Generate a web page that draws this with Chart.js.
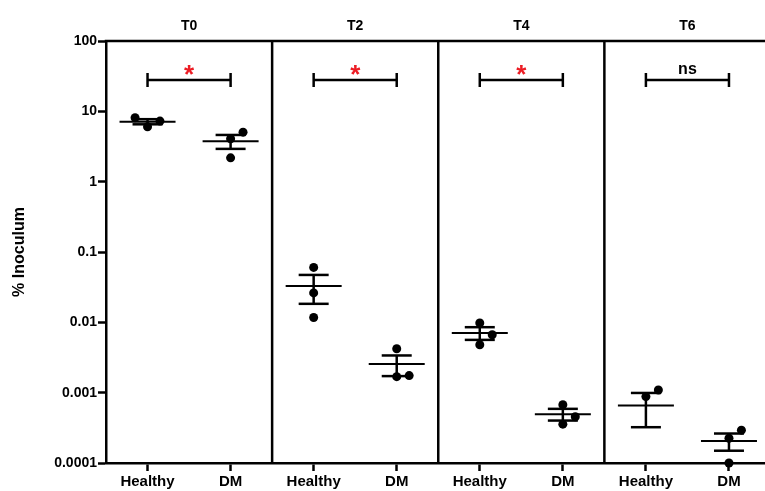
<!DOCTYPE html>
<html><head><meta charset="utf-8">
<script src="https://cdn.jsdelivr.net/npm/chart.js@4.4.1/dist/chart.umd.min.js"></script>
<style>
html,body{margin:0;padding:0;background:#fff;overflow:hidden;width:765px;height:491px}
#wrap{width:775px;height:491px;position:relative}
</style>
</head><body><div id="wrap"><canvas id="c" width="775" height="491"></canvas></div>
<script>
// ---- data ----
const panels = ['T0', 'T2', 'T4', 'T6'];
const groups = ['Healthy', 'DM'];
const significance = ['*', '*', '*', 'ns'];
const yTickValues = [0.0001, 0.001, 0.01, 0.1, 1, 10, 100];
const yTickLabels = ['0.0001', '0.001', '0.01', '0.1', '1', '10', '100'];
const yTitle = '% Inoculum';

const t0Healthy = [6.04, 7.27, 8.1];
const t0DM = [4.07, 2.18, 5.06];
const t2Healthy = [0.0604, 0.0262, 0.0117];
const t2DM = [0.00421, 0.00169, 0.00175];
const t4Healthy = [0.00977, 0.0048, 0.00667];
const t4DM = [0.000674, 0.000357, 0.000454];
const t6Healthy = [0.00088, 0.00109, 0];
const t6DM = [0.000225, 0.0001, 0.000293];

const valueSets = [t0Healthy, t0DM, t2Healthy, t2DM, t4Healthy, t4DM, t6Healthy, t6DM];

// ---- helpers ----
const FONT = '"Liberation Sans", Arial, sans-serif';
const catPos = valueSets.map((_, i) => i + 0.5);
function stats(arr) {
  const n = arr.length;
  const m = arr.reduce((a, b) => a + b, 0) / n;
  const sd = Math.sqrt(arr.reduce((a, b) => a + (b - m) * (b - m), 0) / (n - 1));
  return { m, sem: sd / Math.sqrt(n) };
}
function line(ctx, x1, y1, x2, y2) { ctx.beginPath(); ctx.moveTo(x1, y1); ctx.lineTo(x2, y2); ctx.stroke(); }
function centeredText(ctx, text, x, cy) {
  ctx.textAlign = 'center';
  ctx.textBaseline = 'alphabetic';
  const m = ctx.measureText(text);
  ctx.fillText(text, x, cy + (m.actualBoundingBoxAscent - m.actualBoundingBoxDescent) / 2);
}

const overlay = {
  id: 'overlay',
  beforeDatasetsDraw(chart) {
    const { ctx, chartArea: a, scales: { x, y } } = chart;
    ctx.save();
    ctx.strokeStyle = '#000';
    ctx.lineCap = 'butt';
    // top border + panel dividers
    ctx.lineWidth = 2.5;
    line(ctx, a.left - 1.25, a.top, a.right + 10, a.top);
    for (let p = 1; p < panels.length; p++) {
      const px = x.getPixelForValue(p * 2);
      line(ctx, px, a.top, px, a.bottom);
    }
    // mean and SEM
    valueSets.forEach((vals, i) => {
      const s = stats(vals);
      const cx = x.getPixelForValue(catPos[i]);
      const ym = y.getPixelForValue(s.m);
      const yt = y.getPixelForValue(s.m + s.sem);
      const yb = y.getPixelForValue(s.m - s.sem);
      ctx.lineWidth = 2;
      line(ctx, cx - 28, ym, cx + 28, ym);
      ctx.lineWidth = 2.5;
      line(ctx, cx, yt, cx, yb);
      line(ctx, cx - 15, yt, cx + 15, yt);
      line(ctx, cx - 15, yb, cx + 15, yb);
    });
    // panel titles, brackets, significance
    panels.forEach((name, p) => {
      const x1 = x.getPixelForValue(catPos[p * 2]);
      const x2 = x.getPixelForValue(catPos[p * 2 + 1]);
      const mid = (x.getPixelForValue(p * 2) + x.getPixelForValue(p * 2 + 2)) / 2;
      ctx.fillStyle = '#000';
      ctx.font = 'bold 14px ' + FONT;
      ctx.textAlign = 'center';
      ctx.textBaseline = 'alphabetic';
      ctx.fillText(name, mid, 29.5);
      const by = a.top + 39;
      ctx.lineWidth = 2.5;
      line(ctx, x1, by, x2, by);
      line(ctx, x1, by - 7, x1, by + 7);
      line(ctx, x2, by - 7, x2, by + 7);
      const sig = significance[p];
      const cxm = (x1 + x2) / 2;
      if (sig === 'ns') {
        ctx.fillStyle = '#000';
        ctx.font = 'bold 16px ' + FONT;
        centeredText(ctx, sig, cxm, by - 10.5);
      } else {
        ctx.fillStyle = '#ec1c24';
        ctx.font = 'bold 26px ' + FONT;
        centeredText(ctx, sig, cxm, by - 10.3);
      }
    });
    ctx.restore();
  }
};

const chart = new Chart(document.getElementById('c'), {
  type: 'scatter',
  data: { datasets: [{
    data: [],
    pointRadius: 4.5, pointHoverRadius: 4.5,
    backgroundColor: '#000', borderColor: '#000', borderWidth: 0,
    clip: false
  }] },
  options: {
    responsive: false, animation: false, events: [],
    layout: { padding: { top: 41, right: 2, bottom: 0, left: 0 } },
    plugins: { legend: { display: false }, tooltip: { enabled: false } },
    scales: {
      x: {
        type: 'linear', min: 0, max: panels.length * 2, position: 'bottom',
        afterBuildTicks: s => { s.ticks = catPos.map(v => ({ value: v })); },
        ticks: {
          autoSkip: false, maxRotation: 0, color: '#000', padding: 2,
          font: { family: FONT, weight: 'bold', size: 15 },
          callback: v => groups[Math.floor(v) % groups.length]
        },
        grid: { drawOnChartArea: false, drawTicks: true, tickLength: 8, tickWidth: 2.5, tickColor: '#000' },
        border: { display: true, color: '#000', width: 2.5 },
        afterFit: s => { s.height = 28; }
      },
      y: {
        type: 'logarithmic', min: yTickValues[0], max: yTickValues[yTickValues.length - 1],
        afterBuildTicks: s => { s.ticks = yTickValues.map(v => ({ value: v })); },
        ticks: {
          autoSkip: false, color: '#000', padding: 1,
          font: { family: FONT, weight: 'bold', size: 14 },
          callback: v => {
            const i = yTickValues.findIndex(t => Math.abs(Math.log10(t) - Math.log10(v)) < 1e-6);
            return i >= 0 ? yTickLabels[i] : '';
          }
        },
        grid: { drawOnChartArea: false, drawTicks: true, tickLength: 8, tickWidth: 2.5, tickColor: '#000' },
        border: { display: true, color: '#000', width: 2.5 },
        title: { display: true, text: yTitle, color: '#000', font: { family: FONT, weight: 'bold', size: 16 }, padding: { top: 10, bottom: 0 } },
        afterFit: s => { s.width = 106; }
      }
    }
  },
  plugins: [overlay]
});

// place the points: overlapping points are pushed sideways (simple beeswarm)
(function placePoints() {
  const xs = chart.scales.x, ys = chart.scales.y;
  const JIT = 12.5, MIN_GAP = 12;
  const pts = [];
  valueSets.forEach((vals, i) => {
    const cx = xs.getPixelForValue(catPos[i]);
    const placed = [];
    vals.forEach(v => {
      if (!(v > 0)) return; // zero cannot be shown on a log axis
      const py = ys.getPixelForValue(v);
      const offs = [0, JIT, -JIT, 2 * JIT, -2 * JIT];
      const off = offs.find(o => placed.every(p => p.o !== o || Math.abs(p.py - py) >= MIN_GAP));
      placed.push({ o: off, py });
      pts.push({ x: xs.getValueForPixel(cx + off), y: v });
    });
  });
  chart.data.datasets[0].data = pts;
  chart.update();
})();
</script>
</body></html>
